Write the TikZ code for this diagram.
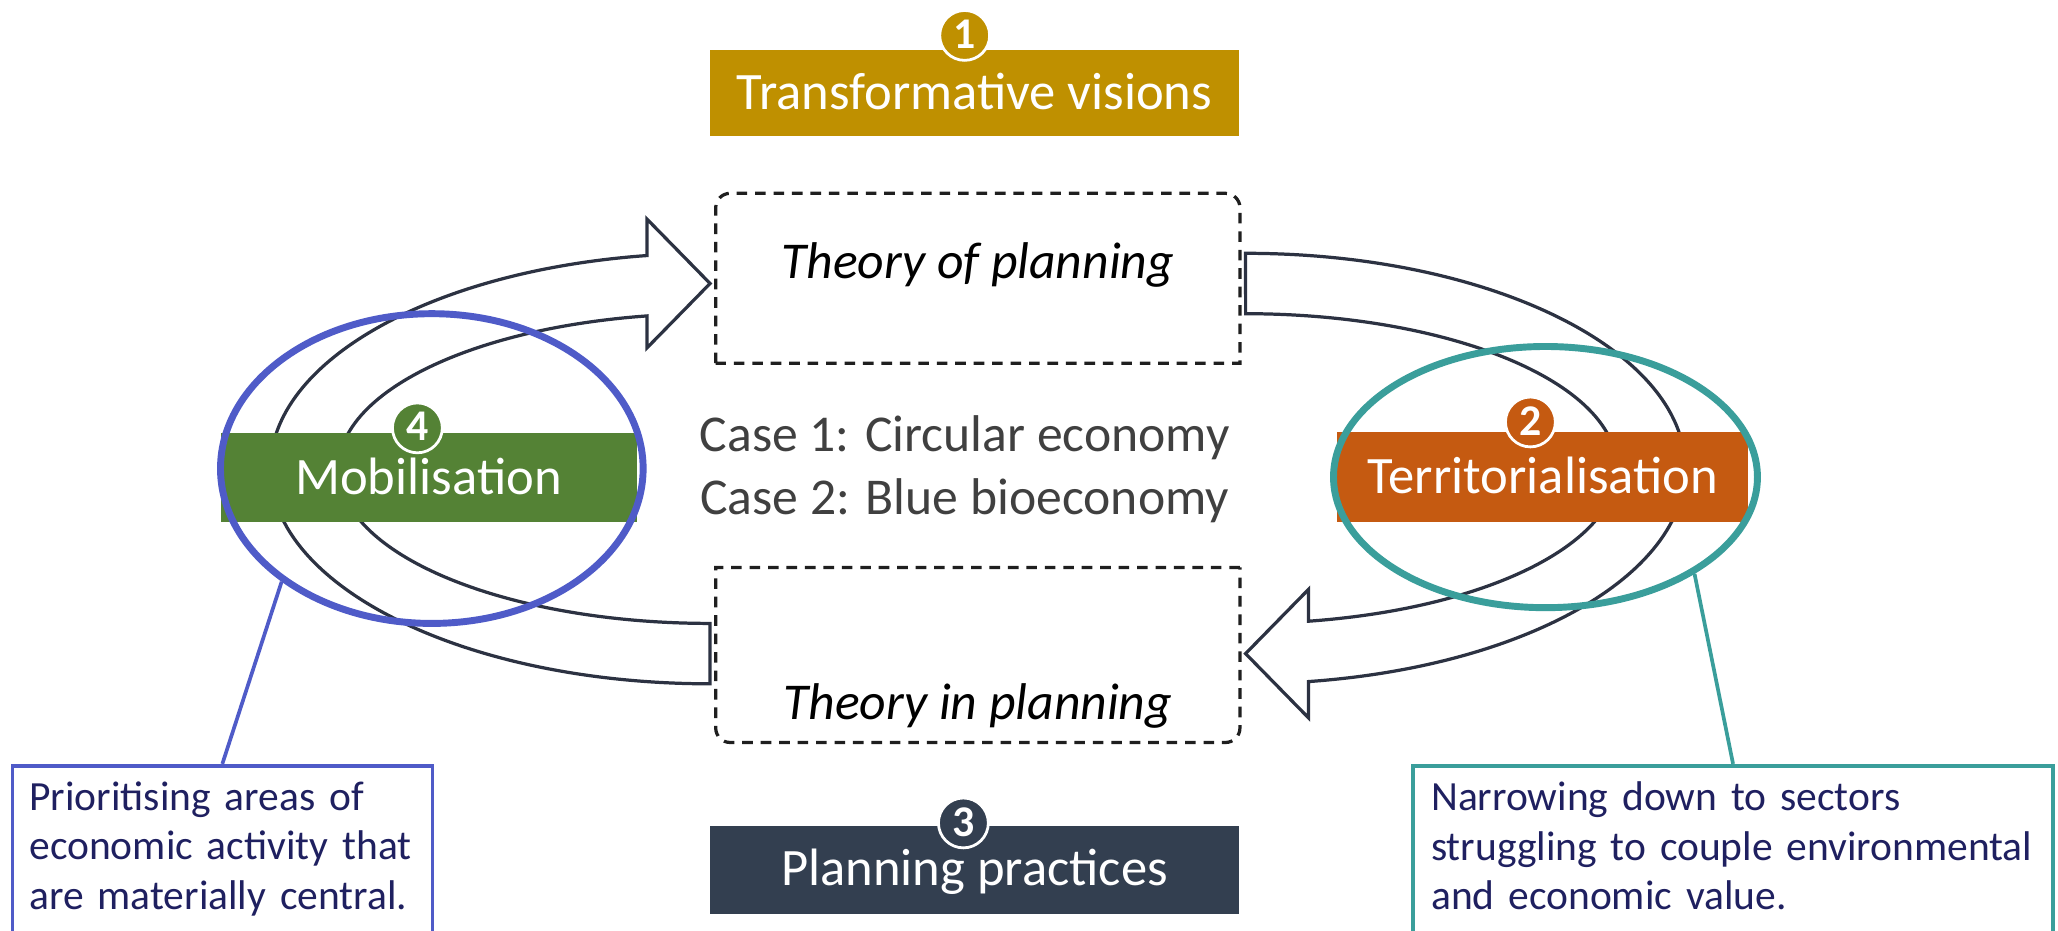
\documentclass[tikz,border=0pt]{standalone}
\usepackage{fontspec}
\setmainfont{Carlito}
\usetikzlibrary{shapes.geometric}

\definecolor{visiongold}{HTML}{BF9000}
\definecolor{territorange}{HTML}{C55A11}
\definecolor{practiceslate}{HTML}{333F50}
\definecolor{mobilgreen}{HTML}{548235}
\definecolor{ringblue}{HTML}{4F5BC8}
\definecolor{ringteal}{HTML}{3A9E9B}
\definecolor{notenavy}{HTML}{1F2060}
\definecolor{arrowline}{HTML}{2C3242}
\definecolor{casegray}{HTML}{404040}

\begin{document}
\begin{tikzpicture}[
    band/.style={minimum width=4.03cm, minimum height=0.66cm, inner sep=0pt, text=white,
      font=\fontsize{11.4}{13.7}\selectfont, text height=0.25cm, text depth=0pt},
    badge/.style={circle, draw=white, line width=0.6pt, minimum size=0.38cm, inner sep=0pt,
      text=white, font=\bfseries\fontsize{9.5}{9.5}\selectfont, text height=0.2cm, text depth=0pt},
    theory/.style={minimum width=3.98cm, inner sep=0pt, font=\itshape\fontsize{11.2}{13.7}\selectfont},
    casetext/.style={inner sep=0pt, text=casegray, font=\fontsize{11.2}{13.7}\selectfont},
    dashbox/.style={draw=black!88, line width=0.7pt, dash pattern=on 2.3pt off 1.7pt},
    cyclearrow/.style={draw=arrowline, fill=white, line width=0.7pt, line join=miter},
    ring/.style={ellipse, draw, line width=1.5pt, inner sep=0pt},
    note/.style={draw, line width=0.8pt, anchor=north west, align=left, inner ysep=0.12cm,
      text=notenavy, font=\fontsize{9}{10.8}\selectfont},
  ]
  \useasboundingbox (0,0) rectangle (15.68,-7.086);
  \clip (0,0) rectangle (15.68,-7.086);

  % the two curved block arrows
  \draw[cyclearrow] (9.49,-1.93) arc[start angle=90, end angle=-81.76, x radius=3.35, y radius=1.64]
    -- (9.97,-5.47) -- (9.49,-4.98) -- (9.97,-4.49) -- (9.97,-4.733)
    arc[start angle=-80.24, end angle=90, x radius=2.83, y radius=1.18] -- cycle;
  \draw[cyclearrow, rotate around={180:(7.45,-3.57)}] (9.49,-1.93) arc[start angle=90, end angle=-81.76, x radius=3.35, y radius=1.64]
    -- (9.97,-5.47) -- (9.49,-4.98) -- (9.97,-4.49) -- (9.97,-4.733)
    arc[start angle=-80.24, end angle=90, x radius=2.83, y radius=1.18] -- cycle;

  \node[theory, minimum height=1.28cm, text height=0.25cm, text depth=0.24cm] (ofplan) at (7.45,-2.12) {Theory of planning};
  \draw[dashbox] (ofplan.south west) [rounded corners=0.11cm] -- (ofplan.north west) -- (ofplan.north east)
    [sharp corners] -- (ofplan.south east) -- cycle;
  \node[theory, minimum height=1.32cm, text height=0.99cm, text depth=0pt] (inplan) at (7.45,-4.99) {Theory in planning};
  \draw[dashbox] (inplan.north east) -- (inplan.north west) [rounded corners=0.11cm] -- (inplan.south west)
    -- (inplan.south east) [sharp corners] -- cycle;

  \node[band, fill=visiongold] (visions) at (7.425,-0.71) {Transformative visions};
  \node[band, fill=practiceslate, minimum height=0.67cm] (practices) at (7.425,-6.625) {Planning practices};
  \node[band, fill=mobilgreen, minimum width=3.17cm, minimum height=0.68cm] (mobil) at (3.265,-3.64) {Mobilisation};
  \node[band, fill=territorange, minimum width=3.13cm, minimum height=0.69cm] (territ) at (11.755,-3.635) {Territorialisation};

  \node[badge, fill=visiongold] (b1) at (7.35,-0.27) {1};
  \node[badge, fill=territorange] (b2) at (11.66,-3.215) {2};
  \node[badge, fill=practiceslate] (b3) at (7.34,-6.27) {3};
  \node[badge, fill=mobilgreen] (b4) at (3.18,-3.26) {4};

  \node[casetext, anchor=base] (case1) at (7.35,-3.44) {Case 1: Circular economy};
  \node[casetext, anchor=base] (case2) at (7.35,-3.92) {Case 2: Blue bioeconomy};

  \node[ring, draw=ringblue, minimum width=3.22cm, minimum height=2.36cm] (mobring) at (3.29,-3.57) {};
  \node[ring, draw=ringteal, minimum width=3.23cm, minimum height=1.99cm] (terrring) at (11.775,-3.635) {};

  \node[note, draw=ringblue, text width=2.94cm, inner xsep=0.13cm] (mobnote) at (0.08,-5.82)
    {Prioritising areas of\\economic activity that\\are materially central.\rule[-0.3cm]{0pt}{0pt}};
  \node[note, draw=ringteal, text width=4.60cm, inner xsep=0.14cm] (terrnote) at (10.75,-5.82)
    {Narrowing down to sectors\\struggling to couple environmental\\and economic value.\rule[-0.3cm]{0pt}{0pt}};
  \draw[ringblue, line width=0.8pt] (mobring.217) -- (mobnote.north);
  \draw[ringteal, line width=0.8pt] (terrring.327) -- (terrnote.north);
\end{tikzpicture}
\end{document}
